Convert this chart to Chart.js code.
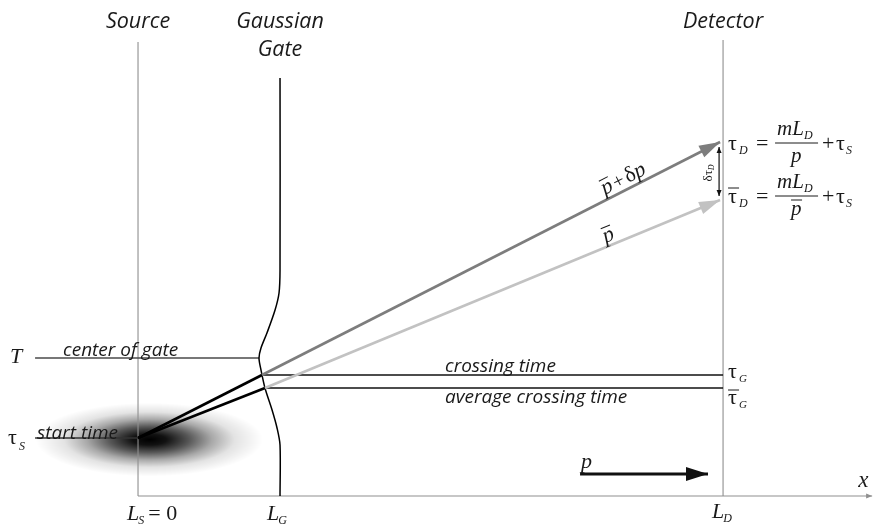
<!DOCTYPE html>
<html>
<head>
<meta charset="utf-8">
<title>Gaussian gate timing</title>
<script src="https://cdn.jsdelivr.net/npm/chart.js@4.4.1/dist/chart.umd.min.js"></script>
<style>
  html, body { margin: 0; padding: 0; background: #fff; }
  #diagram { display: block; }
</style>
</head>
<body>
<canvas id="diagram" width="874" height="532"></canvas>
<script>
// positions along the beam (x) and times (y), diagram units
const L_S = 0, L_G = 1, L_D = 4.12;
const tauS = 0, T = 1, tauG = 0.7875, tauGbar = 0.625, tauD = 3.7, tauDbar = 2.975;
const axisT = -0.725;
const leftEnd = -0.725;
const topLabelT = 5.125, gateLabelT = 4.775;

const sourceLine = [{x: L_S, y: axisT}, {x: L_S, y: 4.95}];
const detectorLine = [{x: L_D, y: axisT}, {x: L_D, y: 4.975}];
const xAxisLine = [{x: L_S, y: axisT}, {x: 5.17, y: axisT}];

// gate profile
const gateX = [1, 1, 0.993, 0.965, 0.908, 0.866, 0.852, 0.866, 0.894, 0.944, 0.979, 1, 1];
const gateT = [4.5, 2.1, 1.8125, 1.6, 1.3125, 1.125, 1.0, 0.85, 0.625, 0.35, 0.125, -0.0875, axisT];
const gateCurve = gateX.map((x, i) => ({x, y: gateT[i]}));

const crossX = 0.873, crossBarX = 0.894, tipX = 4.099;
const darkToGate = [{x: L_S, y: tauS}, {x: crossX, y: tauG}];
const darkToDet = [{x: crossX, y: tauG}, {x: tipX, y: tauD}];
const lightToGate = [{x: L_S, y: tauS}, {x: crossBarX, y: tauGbar}];
const lightToDet = [{x: crossBarX, y: tauGbar}, {x: tipX, y: tauDbar}];

const centerLine = [{x: leftEnd, y: T}, {x: 0.852, y: T}];
const startLine = [{x: leftEnd, y: tauS}, {x: L_S, y: tauS}];
const crossLine = [{x: crossX, y: tauG}, {x: L_D, y: tauG}];
const crossBarLine = [{x: crossBarX, y: tauGbar}, {x: L_D, y: tauGbar}];
const deltaTau = [{x: 4.092, y: 3.6375}, {x: 4.092, y: 3.025}];
const pArrow = [{x: 3.113, y: -0.45}, {x: 4.014, y: -0.45}];

// source cloud
const blob = {x: 0.08, y: -0.02, rx: 0.8, ry: 0.46};

const SANS = '"Open Sans", "Noto Sans", sans-serif';
const SERIF = '"Liberation Serif", "DejaVu Serif", serif';

const line = (data, color, width, extra) => Object.assign({
    data, borderColor: color, borderWidth: width, showLine: true,
    pointRadius: 0, fill: false, tension: 0, borderCapStyle: 'butt'
}, extra || {});

const datasets = [
    line(darkToDet, '#7d7d7d', 2.6, {arrowEnd: {len: 21, half: 6.5}}),
    line(lightToDet, '#c2c2c2', 2.6, {arrowEnd: {len: 21, half: 6.5}}),
    line(darkToGate, '#000', 2.6),
    line(lightToGate, '#000', 2.6),
    line(pArrow, '#111', 3, {arrowEnd: {len: 22, half: 7}}),
    line(deltaTau, '#111', 1.2, {arrowEnd: {len: 6, half: 2.5}, arrowStart: {len: 6, half: 2.5}}),
    line(gateCurve, '#000', 1.5, {tension: 0.3}),
    line(crossLine, '#111', 1.3),
    line(crossBarLine, '#111', 1.3),
    line(centerLine, '#4a4a4a', 1.6),
    line(startLine, '#333', 1.6),
    line(sourceLine, '#8f8f8f', 1.1),
    line(detectorLine, '#8f8f8f', 1.1),
    line(xAxisLine, '#8f8f8f', 1.2, {arrowEnd: {len: 6, half: 2.5}})
];

function head(ctx, from, to, spec, color) {
    const a = Math.atan2(to.y - from.y, to.x - from.x);
    ctx.save();
    ctx.translate(to.x, to.y);
    ctx.rotate(a);
    ctx.fillStyle = color;
    ctx.beginPath();
    ctx.moveTo(0, 0);
    ctx.lineTo(-spec.len, -spec.half);
    ctx.lineTo(-spec.len, spec.half);
    ctx.closePath();
    ctx.fill();
    ctx.restore();
}

// draw a row of text pieces: [text, font, dy, dx]
function runs(ctx, x, y, parts) {
    parts.forEach(p => {
        ctx.font = p[1];
        ctx.fillText(p[0], x + (p[3] || 0), y + (p[2] || 0));
        x += ctx.measureText(p[0]).width + (p[3] || 0);
    });
    return x;
}

function bar(ctx, x1, x2, y, w) {
    ctx.beginPath();
    ctx.lineWidth = w || 1;
    ctx.moveTo(x1, y);
    ctx.lineTo(x2, y);
    ctx.stroke();
}

function formula(ctx, x0, b, overbars) {
    const big = '22px ' + SERIF, it = 'italic 21px ' + SERIF, sub = 'italic 12px ' + SERIF;
    runs(ctx, x0, b, [['τ', big], ['D', sub, 4, 2]]);
    if (overbars) bar(ctx, x0, x0 + 11, b - 15);
    runs(ctx, x0 + 28, b, [['=', big]]);
    runs(ctx, x0 + 49, b - 15, [['mL', it], ['D', sub, 4, 0]]);
    bar(ctx, x0 + 47, x0 + 90, b - 7, 1);
    ctx.font = it;
    ctx.fillText('p', x0 + 63, b + 12);
    if (overbars) bar(ctx, x0 + 63, x0 + 74, b - 3);
    runs(ctx, x0 + 94, b, [['+', big]]);
    runs(ctx, x0 + 108, b, [['τ', big], ['S', sub, 4, 1]]);
}

const cloudPlugin = {
    id: 'cloud',
    beforeDatasetsDraw(chart) {
        const {ctx, scales: {x, y}} = chart;
        const cx = x.getPixelForValue(blob.x), cy = y.getPixelForValue(blob.y);
        const rx = Math.abs(x.getPixelForValue(blob.x + blob.rx) - cx);
        const ry = Math.abs(y.getPixelForValue(blob.y + blob.ry) - cy);
        ctx.save();
        ctx.translate(cx, cy);
        ctx.scale(1, ry / rx);
        const g = ctx.createRadialGradient(0, 0, 0, 0, 0, rx);
        g.addColorStop(0, 'rgba(0,0,0,1)');
        g.addColorStop(0.15, 'rgba(0,0,0,0.93)');
        g.addColorStop(0.35, 'rgba(0,0,0,0.66)');
        g.addColorStop(0.55, 'rgba(0,0,0,0.34)');
        g.addColorStop(0.75, 'rgba(0,0,0,0.11)');
        g.addColorStop(1, 'rgba(0,0,0,0)');
        ctx.fillStyle = g;
        ctx.beginPath();
        ctx.arc(0, 0, rx, 0, Math.PI * 2);
        ctx.fill();
        ctx.restore();
    }
};

const notesPlugin = {
    id: 'notes',
    afterDatasetsDraw(chart) {
        const {ctx, scales: {x, y}} = chart;
        const X = v => x.getPixelForValue(v), Y = v => y.getPixelForValue(v);

        // arrowheads
        chart.data.datasets.forEach((ds, i) => {
            const pts = chart.getDatasetMeta(i).data;
            if (ds.arrowEnd) head(ctx, pts[pts.length - 2], pts[pts.length - 1], ds.arrowEnd, ds.borderColor);
            if (ds.arrowStart) head(ctx, pts[1], pts[0], ds.arrowStart, ds.borderColor);
        });

        ctx.save();
        ctx.fillStyle = '#1a1a1a';
        ctx.strokeStyle = '#1a1a1a';
        ctx.textBaseline = 'alphabetic';

        // headings
        ctx.font = 'italic 21.5px ' + SANS;
        ctx.textAlign = 'center';
        ctx.fillText('Source', X(L_S), Y(topLabelT));
        ctx.fillText('Gaussian', X(L_G), Y(topLabelT));
        ctx.fillText('Gate', X(L_G), Y(gateLabelT));
        ctx.fillText('Detector', X(L_D), Y(topLabelT));

        // line labels
        ctx.textAlign = 'left';
        ctx.font = 'italic 19px ' + SANS;
        ctx.fillText('center of gate', X(leftEnd) + 28, Y(T) - 2);
        ctx.fillText('start time', X(leftEnd) + 2, Y(tauS) + 1);
        ctx.fillText('crossing time', X(2.162), Y(tauG) - 3);
        ctx.fillText('average crossing time', X(2.162), Y(tauGbar) + 15);

        // time marks on the left
        runs(ctx, X(leftEnd) - 25, Y(T) + 5, [['T', 'italic 22px ' + SERIF]]);
        runs(ctx, X(leftEnd) - 27, Y(tauS) + 6, [['τ', '22px ' + SERIF], ['S', 'italic 12px ' + SERIF, 6, 2]]);

        // time marks on the detector
        runs(ctx, X(L_D) + 5, Y(tauG) + 3, [['τ', '22px ' + SERIF], ['G', 'italic 11px ' + SERIF, 4, 2]]);
        runs(ctx, X(L_D) + 5, Y(tauGbar) + 16, [['τ', '22px ' + SERIF], ['G', 'italic 11px ' + SERIF, 4, 2]]);
        bar(ctx, X(L_D) + 5, X(L_D) + 16, Y(tauGbar) + 2);
        formula(ctx, X(L_D) + 5, Y(tauD) + 8, false);
        formula(ctx, X(L_D) + 5, Y(tauDbar) + 3, true);

        // positions under the axis
        const lb = Y(axisT) + 24;
        const Lf = 'italic 22px ' + SERIF, sf = 'italic 12px ' + SERIF;
        runs(ctx, X(L_S) - 11, lb, [['L', Lf], ['S', sf, 4, -1], ['= 0', '22px ' + SERIF, 0, 4]]);
        runs(ctx, X(L_G) - 13, lb, [['L', Lf], ['G', sf, 4, -1]]);
        runs(ctx, X(L_D) - 11, lb - 2, [['L', Lf], ['D', sf, 4, -1]]);

        runs(ctx, X(pArrow[0].x) + 1, Y(pArrow[0].y) - 6, [['p', 'italic 22px ' + SERIF]]);
        runs(ctx, X(xAxisLine[1].x) - 14, Y(axisT) - 9, [['x', 'italic 23px ' + SERIF]]);

        // momentum labels along the rays
        const along = (seg, xv, off, parts, barW) => {
            const p0 = {x: X(seg[0].x), y: Y(seg[0].y)}, p1 = {x: X(seg[1].x), y: Y(seg[1].y)};
            const f = (xv - seg[0].x) / (seg[1].x - seg[0].x);
            const px = X(xv), py = p0.y + (p1.y - p0.y) * f;
            ctx.save();
            ctx.translate(px, py);
            ctx.rotate(Math.atan2(p1.y - p0.y, p1.x - p0.x));
            runs(ctx, 0, -off, parts);
            bar(ctx, 1, 1 + barW, -off - 15);
            ctx.restore();
        };
        along(darkToDet, 3.303, 5, [['p', 'italic 22px ' + SERIF], ['+', '20px ' + SERIF, 0, 2], ['δ', '22px ' + SERIF, 0, 2], ['p', 'italic 22px ' + SERIF]], 10);
        along(lightToDet, 3.303, 4, [['p', 'italic 22px ' + SERIF]], 10);

        // spread at detector
        ctx.save();
        ctx.translate(X(deltaTau[0].x) - 7, (Y(deltaTau[0].y) + Y(deltaTau[1].y)) / 2);
        ctx.rotate(-Math.PI / 2);
        runs(ctx, -10, 0, [['δ', '13px ' + SERIF], ['τ', '13px ' + SERIF], ['D', 'italic 8px ' + SERIF, 2, 0]]);
        ctx.restore();

        ctx.restore();
    }
};

new Chart(document.getElementById('diagram'), {
    type: 'scatter',
    data: {datasets},
    options: {
        responsive: false,
        animation: false,
        layout: {padding: 0},
        plugins: {legend: {display: false}, tooltip: {enabled: false}},
        scales: {
            x: {type: 'linear', min: -0.972, max: 5.183, display: false},
            y: {type: 'linear', min: -1.175, max: 5.475, display: false}
        }
    },
    plugins: [cloudPlugin, notesPlugin]
});
</script>
</body>
</html>
